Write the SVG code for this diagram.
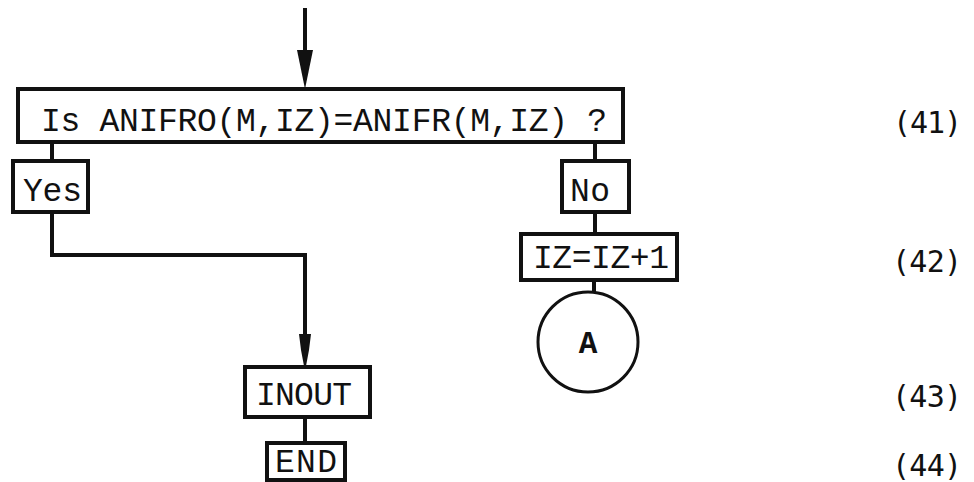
<svg xmlns="http://www.w3.org/2000/svg" width="974" height="482" viewBox="0 0 974 482">
<style>
.box{fill:#fff;stroke:#111;stroke-width:4}
.t{font-family:"Liberation Mono","Courier New",monospace;font-size:33px;fill:#111}
.lab{font-family:"DejaVu Sans Mono","Liberation Mono",monospace;font-size:30px;fill:#111}
.c{fill:none;stroke:#111;stroke-width:4}
.ah{fill:#111;stroke:none}
</style>
<rect width="974" height="482" fill="#fff"/>
<g id="connectors">
<line class="c" x1="305" y1="8" x2="305" y2="56"/>
<polygon class="ah" points="297,50 313,50 305,89"/>
<line class="c" x1="52" y1="142" x2="52" y2="161"/>
<line class="c" x1="595" y1="142" x2="595" y2="161"/>
<polyline class="c" points="52,212 52,255 305,255 305,340"/>
<polygon class="ah" points="299,334 311,334 309,350 306,366 304,366 301,350"/>
<line class="c" x1="305" y1="417" x2="305" y2="443"/>
<line class="c" x1="595" y1="212" x2="595" y2="234"/>
<line class="c" x1="594" y1="280" x2="594" y2="300"/>
<polygon class="ah" points="590,292 598,292 597,304 594,307 591,304"/>
</g>
<g id="n41">
<rect class="box" x="18" y="89" width="605" height="53"/>
<text class="t" x="41" y="131" textLength="566" lengthAdjust="spacing">Is ANIFRO(M,IZ)=ANIFR(M,IZ) ?</text>
</g>
<g id="yes">
<rect class="box" x="13" y="161" width="75" height="51"/>
<text class="t" x="23" y="201" textLength="59" lengthAdjust="spacing">Yes</text>
</g>
<g id="no">
<rect class="box" x="562" y="161" width="67" height="51"/>
<text class="t" x="570" y="201" textLength="40" lengthAdjust="spacing">No</text>
</g>
<g id="n42">
<rect class="box" x="521" y="234" width="156" height="46"/>
<text class="t" x="533" y="268" textLength="136" lengthAdjust="spacing">IZ=IZ+1</text>
</g>
<g id="connA">
<circle cx="588" cy="342" r="50" fill="#fff" stroke="#111" stroke-width="3"/>
<text x="588" y="353" text-anchor="middle" font-family="Liberation Mono, monospace" font-weight="bold" font-size="31" fill="#111">A</text>
</g>
<g id="n43">
<rect class="box" x="245" y="367" width="125" height="50"/>
<text class="t" x="256" y="405" textLength="96" lengthAdjust="spacing">INOUT</text>
</g>
<g id="n44">
<rect class="box" x="267" y="443" width="78" height="37"/>
<text class="t" x="275" y="472" textLength="62" lengthAdjust="spacing">END</text>
</g>
<g id="labels">
<text class="lab" x="893" y="133" textLength="69" lengthAdjust="spacing">(41)</text>
<text class="lab" x="892" y="272" textLength="70" lengthAdjust="spacing">(42)</text>
<text class="lab" x="892" y="407" textLength="70" lengthAdjust="spacing">(43)</text>
<text class="lab" x="892" y="476" textLength="70" lengthAdjust="spacing">(44)</text>
</g>
</svg>
